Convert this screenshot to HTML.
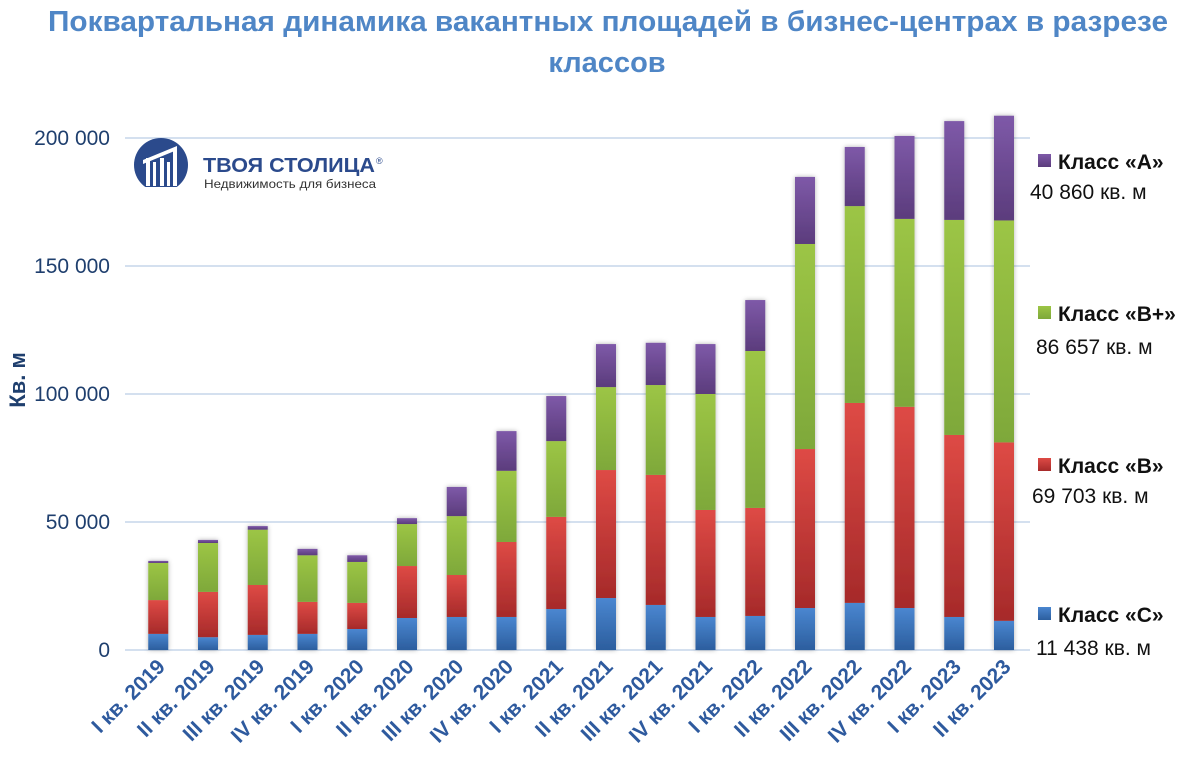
<!DOCTYPE html>
<html><head><meta charset="utf-8"><style>
body{margin:0;background:#fff;}
svg{display:block;font-family:"Liberation Sans","DejaVu Sans",sans-serif;}
</style></head><body>
<svg width="1185" height="767" viewBox="0 0 1185 767" xmlns="http://www.w3.org/2000/svg">
<defs>
<linearGradient id="gC" x1="0" y1="0" x2="0" y2="1"><stop offset="0" stop-color="#4a86d0"/><stop offset="1" stop-color="#2c5e9e"/></linearGradient>
<linearGradient id="gB" x1="0" y1="0" x2="0" y2="1"><stop offset="0" stop-color="#de4a45"/><stop offset="1" stop-color="#a62a2a"/></linearGradient>
<linearGradient id="gP" x1="0" y1="0" x2="0" y2="1"><stop offset="0" stop-color="#9cc545"/><stop offset="1" stop-color="#7ea83a"/></linearGradient>
<linearGradient id="gA" x1="0" y1="0" x2="0" y2="1"><stop offset="0" stop-color="#7e59a8"/><stop offset="1" stop-color="#5b3c7c"/></linearGradient>
<filter id="sh" x="-50%" y="-10%" width="200%" height="120%"><feDropShadow dx="0" dy="0" stdDeviation="2.5" flood-color="#000" flood-opacity="0.3"/></filter>
</defs>
<text x="608" y="31" text-anchor="middle" font-size="29" font-weight="bold" fill="#4f86c6" textLength="1120" lengthAdjust="spacingAndGlyphs">Поквартальная динамика вакантных площадей в бизнес-центрах в разрезе</text>
<text x="607" y="72" text-anchor="middle" font-size="29" font-weight="bold" fill="#4f86c6">классов</text>
<g stroke="#d4e0ef" stroke-width="2">
<line x1="125" y1="138" x2="1030" y2="138"/><line x1="125" y1="266" x2="1030" y2="266"/><line x1="125" y1="394" x2="1030" y2="394"/><line x1="125" y1="522" x2="1030" y2="522"/><line x1="125" y1="650" x2="1030" y2="650"/>
</g>
<g font-size="21" fill="#1f3f6e" text-anchor="end">
<text x="110" y="145">200 000</text><text x="110" y="273">150 000</text><text x="110" y="401">100 000</text><text x="110" y="529">50 000</text><text x="110" y="657">0</text>
</g>
<text transform="translate(25,380) rotate(-90)" text-anchor="middle" font-size="22" font-weight="bold" fill="#1f3f6e">Кв. м</text>
<g id="bars" filter="url(#sh)"></g>
<g id="labels" font-size="21" font-weight="bold" fill="#2e5a9e"></g>
<g>
<circle cx="161" cy="165" r="27" fill="#2b4a8c"/>
<rect x="130" y="187" width="62" height="12" fill="#fff"/>
<g fill="#fff"><rect x="146" y="158" width="4" height="28"/><rect x="153" y="162" width="3" height="24"/><rect x="160" y="158" width="4" height="28"/><rect x="167" y="162" width="3" height="24"/><rect x="173" y="150" width="4" height="36"/><polygon points="143,160 177,146 177,150 143,164"/></g>
<text x="203" y="172" font-size="20" font-weight="bold" fill="#2b4a8c" textLength="172" lengthAdjust="spacingAndGlyphs">ТВОЯ СТОЛИЦА</text>
<text x="376" y="164" font-size="9" fill="#2b4a8c">®</text>
<text x="204" y="188" font-size="12" fill="#333" textLength="172" lengthAdjust="spacingAndGlyphs">Недвижимость для бизнеса</text>
</g>
<g font-size="21">
<rect x="1038" y="154" width="13" height="13" fill="url(#gA)"/><text x="1058" y="169" font-weight="bold" fill="#111">Класс «А»</text><text x="1030" y="199" fill="#111">40 860 кв. м</text>
<rect x="1038" y="306" width="13" height="13" fill="url(#gP)"/><text x="1058" y="321" font-weight="bold" fill="#111">Класс «В+»</text><text x="1036" y="354" fill="#111">86 657 кв. м</text>
<rect x="1038" y="458" width="13" height="13" fill="url(#gB)"/><text x="1058" y="473" font-weight="bold" fill="#111">Класс «В»</text><text x="1032" y="503" fill="#111">69 703 кв. м</text>
<rect x="1038" y="607" width="13" height="13" fill="url(#gC)"/><text x="1058" y="622" font-weight="bold" fill="#111">Класс «С»</text><text x="1036" y="655" fill="#111">11 438 кв. м</text>
</g>
<script>
var d=[[6.3,19.5,34,34.8],[5,22.7,41.8,43],[5.9,25.4,47,48.4],[6.3,18.8,37,39.5],[8.2,18.4,34.4,37],[12.5,32.8,49.2,51.5],[12.9,29.3,52.3,63.7],[12.9,42.2,70,85.5],[16,52,81.6,99.2],[20.3,70.3,102.7,119.5],[17.6,68.4,103.5,120],[12.9,54.7,100,119.5],[13.3,55.5,116.8,136.7],[16.4,78.5,158.6,184.8],[18.4,96.5,173.4,196.5],[16.4,95,168.4,200.8],[12.9,84,168,206.6],[11.4,81.1,167.8,208.7]];
var L=["I кв. 2019","II кв. 2019","III кв. 2019","IV кв. 2019","I кв. 2020","II кв. 2020","III кв. 2020","IV кв. 2020","I кв. 2021","II кв. 2021","III кв. 2021","IV кв. 2021","I кв. 2022","II кв. 2022","III кв. 2022","IV кв. 2022","I кв. 2023","II кв. 2023"];
var g=["gC","gB","gP","gA"],ns="http://www.w3.org/2000/svg",b=document.getElementById("bars"),lb=document.getElementById("labels");
function y(v){return 650-v*2.56;}
d.forEach(function(r,i){var cx=158.25+i*49.75,p=0;r.forEach(function(v,k){var e=document.createElementNS(ns,"rect");e.setAttribute("x",cx-10);e.setAttribute("width",20);e.setAttribute("y",y(v));e.setAttribute("height",y(p)-y(v));e.setAttribute("fill","url(#"+g[k]+")");b.appendChild(e);p=v;});
var t=document.createElementNS(ns,"text");t.setAttribute("text-anchor","end");t.setAttribute("transform","translate("+(cx+8)+",668) rotate(-45)");t.textContent=L[i];lb.appendChild(t);});
</script>
</svg>
</body></html>
